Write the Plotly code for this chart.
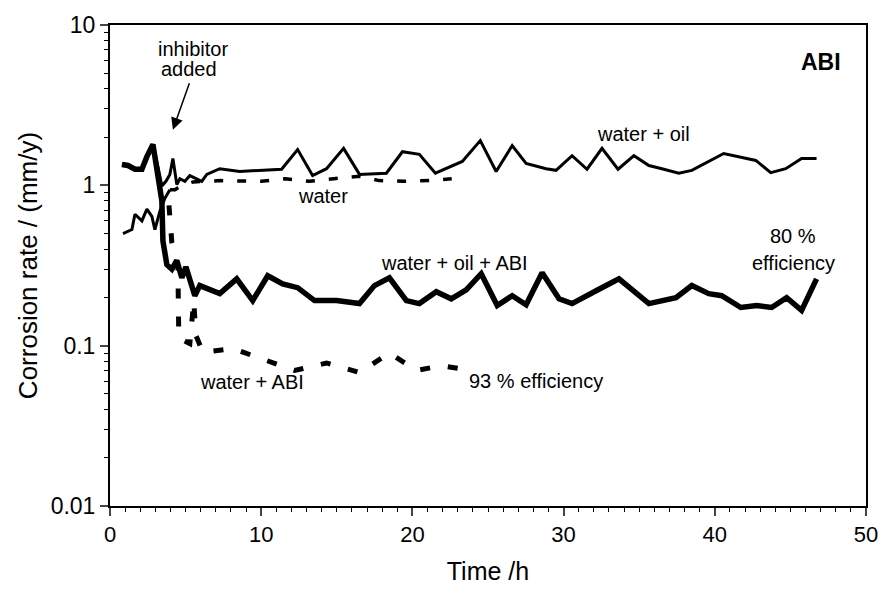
import math
import plotly.graph_objects as go

# ---- data: corrosion rate (mm/y) vs time (h) ----
t_oil = [0.79, 1.19, 1.65, 2.11, 2.44, 2.84, 3.17, 3.43, 3.70, 3.96, 4.16, 4.42, 4.62, 4.95,
         5.28, 5.74, 6.07, 6.40, 7.26, 8.58, 9.90, 11.35, 12.41, 13.40, 14.32, 15.45, 16.50,
         18.28, 19.34, 20.46, 21.52, 23.30, 24.49, 25.54, 26.60, 27.52, 28.84, 29.50, 30.56,
         31.55, 32.54, 33.60, 34.65, 35.64, 36.50, 37.62, 38.48, 40.59, 42.71, 43.70, 44.69,
         45.74, 46.73]
v_oil = [1.35, 1.33, 1.26, 1.26, 1.51, 1.80, 1.31, 0.99, 1.06, 1.17, 1.47, 1.01, 1.10, 1.06,
         1.15, 1.10, 1.06, 1.17, 1.27, 1.22, 1.24, 1.26, 1.67, 1.15, 1.27, 1.70, 1.17,
         1.19, 1.62, 1.56, 1.19, 1.41, 1.90, 1.22, 1.77, 1.37, 1.27, 1.24, 1.53,
         1.26, 1.70, 1.26, 1.53, 1.33, 1.27, 1.19, 1.24, 1.58, 1.43, 1.20, 1.27,
         1.47, 1.47]

t_oil_abi = [0.79, 1.19, 1.65, 2.11, 2.44, 2.84, 3.43, 3.50, 3.76, 4.09, 4.42, 4.75, 5.02,
             5.28, 5.61, 5.94, 6.40, 7.26, 8.38, 9.44, 10.43, 11.42, 12.41, 13.53, 14.98,
             16.50, 17.49, 18.48, 19.60, 20.46, 21.58, 22.57, 23.56, 24.55, 25.61, 26.60,
             27.52, 28.58, 29.70, 30.56, 32.15, 33.66, 35.64, 37.43, 38.48, 39.60, 40.46,
             41.72, 42.77, 43.76, 44.75, 45.74, 46.73]
v_oil_abi = [1.35, 1.33, 1.26, 1.26, 1.51, 1.80, 0.80, 0.45, 0.32, 0.30, 0.34, 0.265, 0.31,
             0.254, 0.205, 0.237, 0.226, 0.211, 0.261, 0.191, 0.273, 0.243, 0.230, 0.191, 0.191,
             0.183, 0.237, 0.265, 0.191, 0.183, 0.217, 0.196, 0.223, 0.281, 0.178, 0.205,
             0.180, 0.285, 0.196, 0.183, 0.220, 0.261, 0.183, 0.199, 0.237, 0.211, 0.205,
             0.173, 0.178, 0.173, 0.199, 0.166, 0.261]

# water: continuous trace before inhibitor addition, dashed afterwards
t_water_pre = [0.86, 1.45, 1.65, 2.11, 2.44, 2.77, 2.97, 3.30, 3.63, 3.96]
v_water_pre = [0.50, 0.53, 0.66, 0.60, 0.71, 0.64, 0.53, 0.69, 0.83, 0.94]
t_water = [3.96, 4.30, 4.60, 5.50, 7.30, 10.0, 11.6, 13.2, 14.8, 16.5, 17.8, 19.4, 21.1, 22.6]
v_water = [0.94, 0.94, 0.98, 1.05, 1.07, 1.06, 1.10, 1.06, 1.10, 1.14, 1.07, 1.06, 1.07, 1.10]

t_water_abi = [3.90, 4.09, 4.49, 4.55, 5.28, 5.54, 5.68, 6.14, 8.12, 10.23, 12.21, 14.32,
               16.50, 18.48, 20.26, 21.91, 23.10]
v_water_abi = [0.75, 0.44, 0.31, 0.112, 0.103, 0.19, 0.116, 0.091, 0.096, 0.081, 0.070,
               0.078, 0.068, 0.090, 0.070, 0.075, 0.072]

x_ticks = [0, 10, 20, 30, 40, 50]
y_ticks = [0.01, 0.1, 1, 10]
y_ticktext = ["0.01", "0.1", "1", "10"]
y_minor = [m * 10.0 ** e for e in (-2, -1, 0) for m in range(2, 10)]

FONT = "Liberation Sans, Arial, sans-serif"

fig = go.Figure()
fig.add_trace(go.Scatter(x=t_oil, y=v_oil, mode="lines",
                         line=dict(color="black", width=3)))
fig.add_trace(go.Scatter(x=t_oil_abi, y=v_oil_abi, mode="lines",
                         line=dict(color="black", width=5.5)))
fig.add_trace(go.Scatter(x=t_water_pre, y=v_water_pre, mode="lines",
                         line=dict(color="black", width=3)))
fig.add_trace(go.Scatter(x=t_water, y=v_water, mode="lines",
                         line=dict(color="black", width=3.5, dash="9px,14px")))
fig.add_trace(go.Scatter(x=t_water_abi, y=v_water_abi, mode="lines",
                         line=dict(color="black", width=5, dash="10px,18px")))

ann_font = dict(family=FONT, size=20, color="black")
labels = [
    ("inhibitor", 5.48, 7.07),
    ("added", 5.2, 5.3),
    ("water + oil", 35.3, 2.10),
    ("water", 14.06, 0.855),
    ("water + oil + ABI", 22.8, 0.328),
    ("80 %", 45.2, 0.483),
    ("efficiency", 45.2, 0.328),
    ("water + ABI", 9.37, 0.0592),
]
annotations = [dict(text=s, x=x, y=math.log10(y), xref="x", yref="y",
                    showarrow=False, font=ann_font) for s, x, y in labels]
annotations.append(dict(text="93 % efficiency", x=23.63, y=math.log10(0.060),
                        xref="x", yref="y", xanchor="left", showarrow=False, font=ann_font))
annotations.append(dict(text="<b>ABI</b>", x=47.0, y=math.log10(5.87),
                        xref="x", yref="y", showarrow=False,
                        font=dict(family=FONT, size=23, color="black")))
# arrow marking the moment the inhibitor is injected
annotations.append(dict(text="", x=4.16, y=math.log10(2.22), xref="x", yref="y",
                        ax=17, ay=-48, showarrow=True, arrowhead=2, arrowsize=1.6,
                        arrowwidth=1.5, arrowcolor="black"))

fig.update_layout(
    width=890, height=594,
    margin=dict(l=110, r=24, t=22, b=88),
    paper_bgcolor="white", plot_bgcolor="white",
    showlegend=False,
    font=dict(family=FONT, color="black"),
    annotations=annotations,
)
fig.update_xaxes(
    range=[0, 50], tickvals=x_ticks, ticks="outside", ticklen=8, tickwidth=1.5,
    tickfont=dict(size=22), showgrid=False, zeroline=False,
    showline=True, linecolor="black", linewidth=2, mirror=True,
    minor=dict(dtick=1, ticks="outside", ticklen=4, tickwidth=1, tickcolor="black"),
    title=dict(text="Time /h", font=dict(size=25), standoff=16),
)
fig.update_yaxes(
    type="log", range=[-2, 1], tickvals=y_ticks, ticktext=y_ticktext,
    ticks="outside", ticklen=8, tickwidth=1.5, tickfont=dict(size=23),
    showgrid=False, zeroline=False,
    showline=True, linecolor="black", linewidth=2, mirror=True,
    minor=dict(tickvals=y_minor, ticks="outside", ticklen=4, tickwidth=1, tickcolor="black"),
    title=dict(text="Corrosion rate / (mm/y)", font=dict(size=26), standoff=6),
)

fig.write_html("out.html")
